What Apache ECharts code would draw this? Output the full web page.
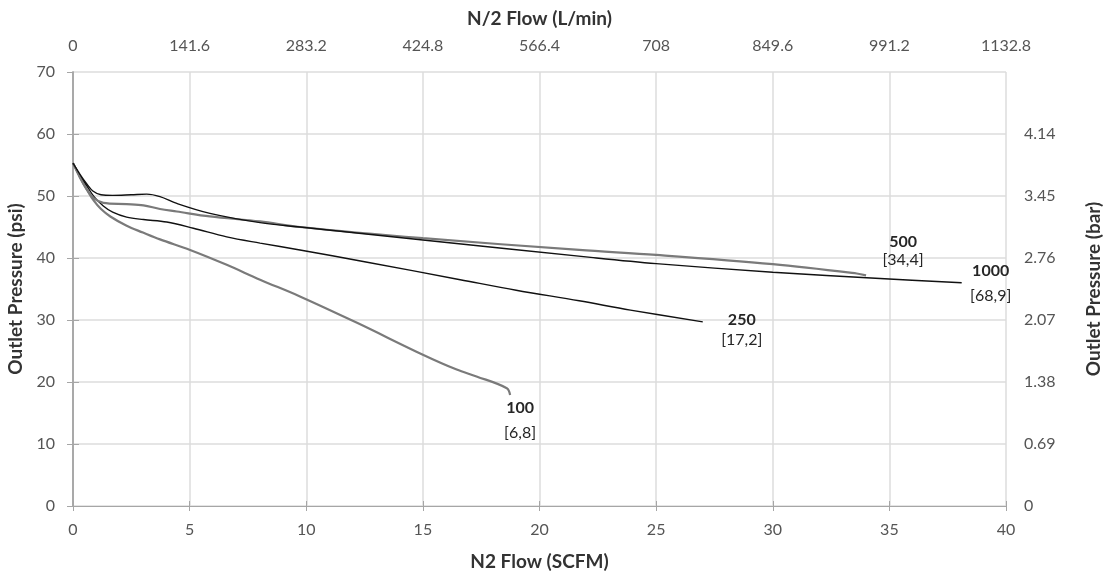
<!DOCTYPE html>
<html>
<head>
<meta charset="utf-8">
<script src="https://cdn.jsdelivr.net/npm/echarts@6/dist/echarts.min.js"></script>
<style>
html,body{margin:0;padding:0;background:#fff;}
#chart{width:1106px;height:577px;}
</style>
</head>
<body>
<div id="chart"></div>
<script>
// N2 flow (SCFM) vs outlet pressure (psi)
const s100 = [[0,55.3],[0.3,53.0],[0.6,51.0],[0.9,49.2],[1.2,47.9],[1.6,46.7],[2.3,45.2],[3.0,44.1],[3.73,43.0],[5.02,41.3],[6.59,38.9],[8.02,36.5],[9.73,33.8],[12.2,29.5],[15,24.4],[16.45,22.0],[17.3,20.9],[18.6,19.0],[18.74,17.9]];
const s250 = [[0,55.3],[0.3,53.3],[0.6,51.6],[0.9,49.9],[1.3,48.4],[1.7,47.4],[2.3,46.6],[3.02,46.2],[4.02,45.8],[5.16,44.8],[6.59,43.4],[8.02,42.4],[9.73,41.3],[12.5,39.4],[16.6,36.5],[19.0,34.8],[21.7,33.1],[23.9,31.6],[27.0,29.7]];
const s500 = [[0,55.3],[0.3,53.0],[0.6,51.0],[0.9,49.6],[1.3,48.9],[2.3,48.7],[3.02,48.5],[3.73,47.9],[4.45,47.5],[5.87,46.7],[8.02,45.9],[9.73,45.0],[15,43.2],[21.7,41.3],[25,40.5],[30,39.0],[33.6,37.5],[34.0,37.2]];
const s1000 = [[0,55.3],[0.3,53.5],[0.6,51.9],[0.85,50.8],[1.2,50.2],[1.7,50.1],[2.5,50.2],[3.16,50.3],[3.73,49.9],[4.45,48.8],[5.87,47.2],[8.02,45.7],[9.73,45.0],[15,42.9],[22.2,40.1],[25,39.1],[30,37.7],[34.6,36.7],[38.1,36.0]];
const seriesNames = ['100','250','500','1000'];
const seriesSub = ['[6,8]','[17,2]','[34,4]','[68,9]'];

const FONT = 'Lato';
const chart = echarts.init(document.getElementById('chart'));
function endLabel(i, offset, lh){
  return {
    show: true,
    formatter: '{a|' + seriesNames[i] + '}\n{b|' + seriesSub[i] + '}',
    align: 'center', verticalAlign: 'middle',
    offset: offset,
    rich: {
      a: {fontFamily: FONT, fontSize: 16, fontWeight: 'bold', color: '#262626', lineHeight: lh, align: 'center'},
      b: {fontFamily: FONT, fontSize: 16, color: '#262626', lineHeight: lh, align: 'center'}
    }
  };
}
const titleStyle = {fontFamily: FONT, fontSize: 19, fontWeight: 'bold', color: '#333'};
const tickStyle = {fontFamily: FONT, fontSize: 16, color: '#555'};
const option = {
  animation: false,
  grid: {left: 73, right: 100, top: 72, bottom: 71, containLabel: false, outerBoundsMode: 'none'},
  xAxis: [
    {type: 'value', min: 0, max: 40, interval: 5, position: 'bottom',
     name: 'N2 Flow (SCFM)', nameLocation: 'middle', nameGap: 46,
     nameTextStyle: titleStyle,
     axisLine: {lineStyle: {color: '#a6a6a6', width: 1}},
     axisTick: {show: true, length: 5, lineStyle: {color: '#a6a6a6'}},
     axisLabel: Object.assign({margin: 16}, tickStyle),
     splitLine: {show: true, lineStyle: {color: '#dcdcdc', width: 1.5}}},
    {type: 'value', min: 0, max: 1132.8, interval: 141.6, position: 'top',
     name: 'N/2 Flow (L/min)', nameLocation: 'middle', nameGap: 44,
     nameTextStyle: titleStyle,
     axisLine: {lineStyle: {color: '#a6a6a6', width: 1}},
     axisTick: {show: true, length: 5, lineStyle: {color: '#a6a6a6'}},
     axisLabel: Object.assign({margin: 18, formatter: v => String(Math.round(v * 10) / 10)}, tickStyle),
     splitLine: {show: false}}
  ],
  yAxis: [
    {type: 'value', min: 0, max: 70, interval: 10, position: 'left',
     name: 'Outlet Pressure (psi)', nameLocation: 'middle', nameGap: 46,
     nameTextStyle: titleStyle,
     axisLine: {show: true, lineStyle: {color: '#a6a6a6', width: 1.5}},
     axisTick: {show: true, length: 6, lineStyle: {color: '#a6a6a6'}},
     axisLabel: Object.assign({margin: 18}, tickStyle),
     splitLine: {show: true, lineStyle: {color: '#dcdcdc', width: 1.5}}},
    {type: 'value', min: 0, max: 4.83, interval: 0.69, position: 'right',
     name: 'Outlet Pressure (bar)', nameLocation: 'middle', nameGap: 78,
     nameTextStyle: titleStyle,
     axisLine: {show: true, lineStyle: {color: '#a6a6a6', width: 1.5}},
     axisTick: {show: true, length: 6, lineStyle: {color: '#a6a6a6'}},
     axisLabel: Object.assign({margin: 18, showMaxLabel: false,
       formatter: v => v === 0 ? '0' : String(Math.round(v * 100) / 100)}, tickStyle),
     splitLine: {show: false}}
  ],
  series: [
    {name: '100', type: 'line', data: s100, smooth: 0.35, showSymbol: false,
     lineStyle: {color: '#7a7a7a', width: 2.2}, endLabel: endLabel(0, [2, 25], 25)},
    {name: '250', type: 'line', data: s250, smooth: 0.35, showSymbol: false,
     lineStyle: {color: '#111', width: 1.4}, endLabel: endLabel(1, [31, 8], 20)},
    {name: '500', type: 'line', data: s500, smooth: 0.35, showSymbol: false,
     lineStyle: {color: '#7a7a7a', width: 2.2}, endLabel: endLabel(2, [29, -25], 18)},
    {name: '1000', type: 'line', data: s1000, smooth: 0.35, showSymbol: false,
     lineStyle: {color: '#111', width: 1.4}, endLabel: endLabel(3, [21, 1], 25)}
  ]
};
chart.setOption(option);
</script>
</body>
</html>
